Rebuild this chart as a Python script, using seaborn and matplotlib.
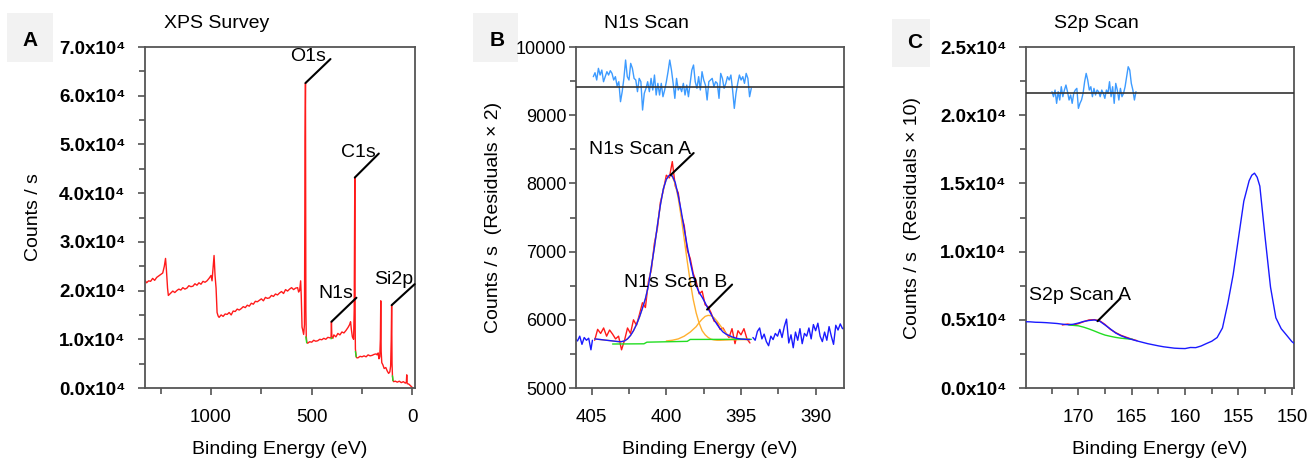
import numpy as np
import matplotlib
matplotlib.use("Agg")
import matplotlib.pyplot as plt
import seaborn as sns
from matplotlib.patches import Rectangle

sns.set_style("ticks")
plt.rcParams["font.family"] = ["Liberation Sans", "DejaVu Sans"]
for k in ["text.color", "axes.labelcolor", "xtick.labelcolor", "ytick.labelcolor"]:
    plt.rcParams[k] = "black"

# ---------------- Panel A: survey (counts in units of 1e4) ----------------
survey_be = [1330, 1320, 1310, 1300, 1290, 1280, 1270, 1260, 1250, 1240, 1232, 1226, 1222, 1216, 1212,
             1200, 1190, 1180, 1170, 1160, 1150, 1140, 1130, 1120, 1110, 1100, 1090, 1080, 1070, 1060,
             1050, 1040, 1030, 1020, 1010, 1000, 995, 990, 985, 980, 975, 970, 965,
             960, 950, 940, 930, 920, 910, 900, 890, 880, 870, 860, 850, 840, 830, 820, 810, 800,
             790, 780, 770, 760, 750, 740, 730, 720, 710, 700, 690, 680, 670, 660, 650, 640, 630,
             620, 610, 600, 590, 580, 570, 565, 560, 555, 552, 548, 545, 540,
             536, 533, 531, 530, 529, 527, 524,
             520, 510, 500, 490, 480, 470, 460, 450, 440, 430, 420, 410, 404, 402, 400, 395, 390,
             380, 370, 360, 350, 340, 330, 320, 312, 307, 303, 298, 292, 289, 287, 286, 285, 284,
             283, 281, 279, 276,
             270, 260, 250, 240, 230, 220, 210, 200, 190, 180, 175, 170, 166, 162, 159, 157, 155,
             152, 147, 140, 132, 125, 118, 112, 108, 105, 103, 101, 99, 97, 93, 85, 75, 65, 55, 45,
             35, 30, 28, 26, 18, 10, 3, -3]
survey_e4 = [2.22, 2.16, 2.20, 2.19, 2.25, 2.21, 2.27, 2.30, 2.33, 2.36, 2.50, 2.66, 2.45, 2.05, 1.90,
             1.95, 1.99, 1.96, 2.00, 2.03, 2.01, 2.06, 2.03, 2.05, 2.10, 2.08, 2.09, 2.14, 2.11, 2.16,
             2.13, 2.19, 2.17, 2.20, 2.25, 2.31, 2.20, 2.45, 2.72, 2.30, 2.05, 1.55, 1.48,
             1.45, 1.50, 1.47, 1.52, 1.51, 1.55, 1.50, 1.58, 1.57, 1.62, 1.60, 1.63, 1.67, 1.65, 1.70,
             1.68, 1.74, 1.72, 1.78, 1.77, 1.80, 1.83, 1.79, 1.86, 1.84, 1.85, 1.90, 1.88, 1.93, 1.91,
             1.95, 1.98, 1.94, 2.02, 1.99, 2.03, 2.06, 2.02, 2.05, 2.06, 1.97, 2.00, 2.20, 1.90, 1.25,
             1.20, 1.10,
             1.30, 5.10, 6.26, 4.00, 1.60, 1.05, 0.93,
             0.92, 0.95, 0.94, 0.98, 0.96, 0.97, 1.00, 0.99, 1.02, 1.00, 1.04, 1.03, 1.03, 1.36, 1.05,
             1.02, 1.09, 1.05, 1.12, 1.09, 1.15, 1.13, 1.18, 1.24, 1.30, 1.36, 1.20, 1.05, 1.00, 1.60,
             3.20, 4.32, 2.50, 1.20, 0.80, 0.72, 0.64, 0.62,
             0.62, 0.65, 0.64, 0.66, 0.64, 0.68, 0.66, 0.67, 0.69, 0.70, 0.68, 0.72, 0.60, 0.64, 1.00,
             1.79, 0.75, 0.52, 0.48, 0.40, 0.42, 0.35, 0.30, 0.33, 0.45, 1.00, 1.70, 0.50, 0.25, 0.16,
             0.13, 0.14, 0.12, 0.14, 0.11, 0.13, 0.10, 0.12, 0.27, 0.09, 0.08, 0.05, 0.02, 0.00]
survey_bg_be = [[529, 525], [404, 400], [283, 279], [99, 96]]
survey_bg_e4 = [[1.05, 0.93], [1.01, 1.03], [0.75, 0.64], [0.25, 0.15]]
survey_labels = ["O1s", "C1s", "N1s", "Si2p"]
survey_peak_be = [531, 286, 402, 103]
survey_peak_e4 = [6.26, 4.32, 1.36, 1.70]

# ---------------- Panel B: N1s scan ----------------
n1s_fit_be = np.round(np.arange(404.8, 394.39, -0.2), 2)
n1s_raw = [5700, 5860, 5800, 5880, 5760, 5850, 5790, 5720, 5760, 5560, 5700, 5880, 5800, 6000,
           5920, 6080, 6250, 6180, 6560, 6740, 7120, 7340, 7720, 7900, 8120, 8080, 8320, 7960,
           7860, 7540, 7380, 7020, 6900, 6680, 6560, 6380, 6420, 6220, 6190, 6100, 5980, 5960,
           5860, 5880, 5800, 5740, 5870, 5650, 5840, 5780, 5870, 5720, 5660]
n1s_env = [5720, 5715, 5710, 5705, 5700, 5695, 5690, 5685, 5680, 5680, 5690, 5720, 5770, 5840,
           5930, 6040, 6170, 6310, 6500, 6780, 7060, 7380, 7680, 7920, 8060, 8120, 8110, 8010,
           7820, 7590, 7330, 7080, 6850, 6650, 6500, 6400, 6330, 6250, 6160, 6080, 6000, 5930,
           5870, 5820, 5790, 5770, 5750, 5735, 5725, 5718, 5715, 5712, 5710]
n1s_compA = [5720, 5715, 5710, 5705, 5700, 5695, 5690, 5685, 5680, 5680, 5690, 5720, 5770, 5840,
             5930, 6040, 6170, 6310, 6500, 6780, 7060, 7380, 7680, 7920, 8060, 8115, 8100, 7990,
             7780, 7500, 7180, 6860, 6560, 6300, 6100, 5950, 5840, 5780, 5740, 5715, 5705, 5700,
             5700, 5702, 5704, 5706, 5707, 5708, 5709, 5710, 5710, 5710, 5710]
n1s_compB_be = [400.0, 399.6, 399.2, 398.8, 398.4, 398.0, 397.8, 397.6, 397.4, 397.2, 397.0,
                396.8, 396.6, 396.4, 396.2, 396.0, 395.8, 395.6, 395.4, 395.0, 394.4]
n1s_compB = [5690, 5700, 5720, 5760, 5820, 5900, 5960, 6010, 6050, 6065, 6060, 6030, 5980, 5920,
             5860, 5800, 5760, 5735, 5720, 5715, 5712]
n1s_bg_be = [403.6, 401.5, 401.3, 398.6, 398.4, 394.3]
n1s_bg = [5645, 5648, 5672, 5684, 5712, 5714]
n1s_left_be = [406.1, 405.95, 405.8, 405.65, 405.5, 405.35, 405.2, 405.05, 404.95]
n1s_left = [5720, 5690, 5760, 5640, 5740, 5700, 5730, 5560, 5700]
n1s_right_be = [394.2, 394.05, 393.9, 393.75, 393.6, 393.45, 393.3, 393.15, 393.0, 392.85, 392.7,
                392.55, 392.4, 392.25, 392.1, 391.95, 391.8, 391.65, 391.5, 391.35, 391.2, 391.05,
                390.9, 390.75, 390.6, 390.45, 390.3, 390.15, 390.0, 389.85, 389.7, 389.55, 389.4,
                389.25, 389.1, 388.95, 388.8, 388.65, 388.5, 388.35, 388.2, 388.05]
n1s_right = [5740, 5700, 5830, 5880, 5720, 5790, 5680, 5620, 5760, 5710, 5800, 5760, 5860, 5740,
             5900, 6010, 5660, 5780, 5590, 5820, 5700, 5870, 5650, 5800, 5760, 5880, 5720, 5930,
             5840, 5950, 5760, 5680, 5820, 5700, 5900, 5760, 5640, 5920, 5850, 5940, 5870, 5880]
n1s_resid = [9565, 9623, 9516, 9687, 9589, 9662, 9491, 9565, 9638, 9589, 9653, 9613, 9516, 9565,
             9428, 9491, 9198, 9345, 9540, 9809, 9565, 9516, 9760, 9687, 9540, 9516, 9345, 9540,
             9491, 9076, 9320, 9394, 9491, 9345, 9540, 9369, 9589, 9296, 9467, 9296, 9467, 9271,
             9369, 9491, 9638, 9809, 9662, 9467, 9247, 9540, 9369, 9418, 9345, 9467, 9296, 9442,
             9271, 9467, 9662, 9736, 9491, 9394, 9565, 9369, 9638, 9516, 9442, 9223, 9491, 9516,
             9540, 9418, 9491, 9467, 9247, 9613, 9540, 9394, 9467, 9565, 9516, 9589, 9369, 9100,
             9320, 9467, 9589, 9516, 9565, 9467, 9613, 9540, 9271, 9394]
n1s_resid_be = np.linspace(404.89, 394.31, len(n1s_resid))
n1s_resid_zero = 9418
n1s_labels = ["N1s Scan A", "N1s Scan B"]
n1s_peak_be = [399.71, 397.27]
n1s_peak = [8123, 6150]

# ---------------- Panel C: S2p scan ----------------
s2p_be = [174.9, 174.5, 174.0, 173.5, 173.0, 172.5, 172.0, 171.5, 171.0, 170.5, 170.0, 169.5,
          169.0, 168.5, 168.0, 167.5, 167.0, 166.5, 166.0, 165.5, 165.0, 164.5, 164.0, 163.5,
          163.0, 162.5, 162.0, 161.5, 161.0, 160.5, 160.0, 159.5, 159.0, 158.5, 158.0, 157.5,
          157.0, 156.5, 156.0, 155.5, 155.0, 154.5, 154.0, 153.75, 153.5, 153.25, 153.0, 152.5,
          152.0, 151.5, 151.0, 150.5, 150.0, 149.8]
s2p_env = [4860, 4850, 4820, 4810, 4790, 4760, 4730, 4680, 4640, 4670, 4760, 4880, 4950, 4990,
           4900, 4620, 4330, 4030, 3830, 3680, 3560, 3450, 3350, 3250, 3170, 3090, 3020, 2970,
           2920, 2900, 2890, 2970, 2960, 3080, 3260, 3430, 3700, 4400, 6200, 8300, 11000, 13700,
           15200, 15600, 15750, 15450, 14800, 11000, 7400, 5150, 4350, 3880, 3400, 3280]
s2p_raw_be = [171.5, 171.0, 170.5, 170.0, 169.5, 169.0, 168.5, 168.0, 167.5, 167.0, 166.5,
              166.0, 165.5, 165.0, 164.5]
s2p_raw = [4620, 4690, 4610, 4720, 4860, 4990, 5010, 4930, 4660, 4300, 4060, 3860, 3720, 3580, 3470]
s2p_bg_be = [170.9, 170.0, 169.5, 169.0, 168.5, 168.0, 167.5, 167.0, 166.5, 166.0, 165.5, 164.9]
s2p_bg = [4620, 4560, 4460, 4330, 4180, 4020, 3880, 3790, 3710, 3650, 3610, 3570]
s2p_resid = [21723, 21357, 21845, 20869, 21723, 21113, 22089, 21357, 21845, 22211, 21723, 21113,
             21479, 20869, 21601, 21845, 21967, 20503, 20869, 21113, 21601, 22455, 23065, 22577,
             21845, 22089, 21357, 21967, 21479, 21845, 21723, 21357, 21845, 21601, 21235, 21845,
             21601, 22455, 21357, 22089, 20869, 22333, 21845, 21113, 21967, 21357, 21601, 22089,
             22821, 23553, 23309, 22333, 21845, 21113, 21723]
s2p_resid_be = np.linspace(172.47, 164.6, len(s2p_resid))
s2p_resid_zero = 21650
s2p_labels = ["S2p Scan A"]
s2p_peak_be = [168.2]
s2p_peak = [4900]

RED = "#ff1a1a"
BLUE = "#1a1aff"
ORANGE = "#ffb030"
GREEN = "#22dd22"
RESID = "#3d9bff"

W, H = 1307, 461
fig = plt.figure(figsize=(W / 100, H / 100), dpi=100)


def add_ax(l, t, r, b):
    return fig.add_axes([l / W, 1 - b / H, (r - l) / W, (b - t) / H])


axA = add_ax(145, 47, 415, 388)
axB = add_ax(576, 47, 844, 388)
axC = add_ax(1026, 47, 1294, 388)


def line(ax, x, y, color, lw=1.0, z=2):
    sns.lineplot(x=np.asarray(x, float), y=np.asarray(y, float), ax=ax, color=color, lw=lw,
                 estimator=None, sort=False, zorder=z)


PX = 0.72  # pixels -> points


def label_peak(ax, text, x, y, line_px, text_px):
    ax.annotate("", xy=(x, y), xytext=(line_px[0] * PX, line_px[1] * PX), textcoords="offset points",
                arrowprops=dict(arrowstyle="-", color="black", lw=1.5, shrinkA=0, shrinkB=0),
                annotation_clip=False)
    ax.annotate(text, xy=(x, y), xytext=(text_px[0] * PX, text_px[1] * PX), textcoords="offset points",
                ha="center", va="center", fontsize=14, annotation_clip=False)


# Panel A
survey_counts = np.asarray(survey_e4) * 1e4
line(axA, survey_be, survey_counts, RED)
for bx, by in zip(survey_bg_be, survey_bg_e4):
    line(axA, bx, np.asarray(by) * 1e4, GREEN, z=3)
offsA = {"O1s": ((25, 24), (3, 27)), "C1s": ((24, 24), (4, 25)),
         "N1s": ((25, 24), (4, 28)), "Si2p": ((23, 21), (2, 26))}
for lab, bx, by in zip(survey_labels, survey_peak_be, survey_peak_e4):
    lp, tp = offsA[lab]
    label_peak(axA, lab, bx, by * 1e4, lp, tp)

axA.set_xlim(1328, -13)
axA.set_ylim(0, 7e4)
axA.set_xticks([1000, 500, 0])
axA.set_xticks([1250, 750, 250], minor=True)
yt = np.arange(0, 7.01e4, 1e4)
axA.set_yticks(yt)
axA.set_yticklabels([f"{v / 1e4:.1f}x10\u2074" for v in yt], fontweight="bold")
axA.set_yticks(np.arange(0.5e4, 7e4, 1e4), minor=True)

# Panel B
line(axB, n1s_left_be, n1s_left, BLUE)
line(axB, n1s_right_be, n1s_right, BLUE)
line(axB, n1s_fit_be, n1s_raw, RED, z=2)
line(axB, n1s_fit_be, n1s_compA, ORANGE, z=2.5)
line(axB, n1s_compB_be, n1s_compB, ORANGE, z=2.5)
line(axB, n1s_bg_be, n1s_bg, GREEN, z=2.6)
line(axB, n1s_fit_be, n1s_env, BLUE, z=3)
line(axB, n1s_resid_be, n1s_resid, RESID, z=2)
axB.axhline(n1s_resid_zero, color="#333333", lw=1.2, zorder=3)
offsB = [((23, 22), (-31, 25.5)), ((25, 25), (-31, 27.5))]
for lab, bx, by, (lp, tp) in zip(n1s_labels, n1s_peak_be, n1s_peak, offsB):
    label_peak(axB, lab, bx, by, lp, tp)
axB.set_xlim(406.05, 388.1)
axB.set_ylim(5000, 10000)
axB.set_xticks([405, 400, 395, 390])
axB.set_xticks([402.5, 397.5, 392.5], minor=True)
axB.set_yticks(np.arange(5000, 10001, 1000))
axB.set_yticks(np.arange(5500, 10000, 1000), minor=True)

# Panel C
line(axC, s2p_raw_be, s2p_raw, RED, z=2)
line(axC, s2p_bg_be, s2p_bg, GREEN, z=2.6)
line(axC, s2p_be, s2p_env, BLUE, z=3)
line(axC, s2p_resid_be, s2p_resid, RESID, z=2)
axC.axhline(s2p_resid_zero, color="#333333", lw=1.2, zorder=3)
for lab, bx, by in zip(s2p_labels, s2p_peak_be, s2p_peak):
    label_peak(axC, lab, bx, by, (23, 23), (-18, 26))
axC.set_xlim(174.9, 149.8)
axC.set_ylim(0, 2.5e4)
axC.set_xticks([170, 165, 160, 155, 150])
axC.set_xticks([172.5, 167.5, 162.5, 157.5, 152.5], minor=True)
ytc = np.arange(0, 2.51e4, 0.5e4)
axC.set_yticks(ytc)
axC.set_yticklabels([f"{v / 1e4:.1f}x10\u2074" for v in ytc], fontweight="bold")
axC.set_yticks(np.arange(0.25e4, 2.5e4, 0.5e4), minor=True)

titles = ["XPS Survey", "N1s Scan", "S2p Scan"]
ylabels = ["Counts / s", "Counts / s  (Residuals \u00d7 2)", "Counts / s  (Residuals \u00d7 10)"]
ylab_x = [-0.381, -0.276, -0.392]
title_x = [0.267, 0.261, 0.261]
for i, ax in enumerate([axA, axB, axC]):
    for s in ax.spines.values():
        s.set_color("#555555")
        s.set_linewidth(1.3)
        s.set_visible(True)
    ax.tick_params(which="both", direction="out", color="#444444", width=1.1)
    ax.tick_params(which="major", length=5)
    ax.tick_params(which="minor", length=4)
    ax.tick_params(axis="x", labelsize=13.5, pad=10)
    ax.tick_params(axis="y", labelsize=13.5 if i != 1 else 13, pad=9 if i != 1 else 2)
    ax.set_xlabel("Binding Energy (eV)", fontsize=14, labelpad=11)
    ax.set_ylabel(ylabels[i], fontsize=14)
    ax.yaxis.set_label_coords(ylab_x[i], 0.5)
    ax.text(title_x[i], 1.07, titles[i], transform=ax.transAxes, ha="center", va="center", fontsize=14)

# panel letters in grey boxes (pixel layout)
for letter, (x0, y0, x1, y1), (cx, cy) in [("A", (7, 13, 53, 62), (30, 40)),
                                            ("B", (473, 13, 518, 62), (497, 40)),
                                            ("C", (892, 19, 930, 67), (915, 43))]:
    fig.add_artist(Rectangle((x0 / W, 1 - y1 / H), (x1 - x0) / W, (y1 - y0) / H,
                             transform=fig.transFigure, facecolor="#f2f2f2", edgecolor="none", zorder=0))
    fig.text(cx / W, 1 - cy / H, letter, ha="center", va="center", fontsize=15, fontweight="bold")

fig.savefig("out.png", dpi=100)
